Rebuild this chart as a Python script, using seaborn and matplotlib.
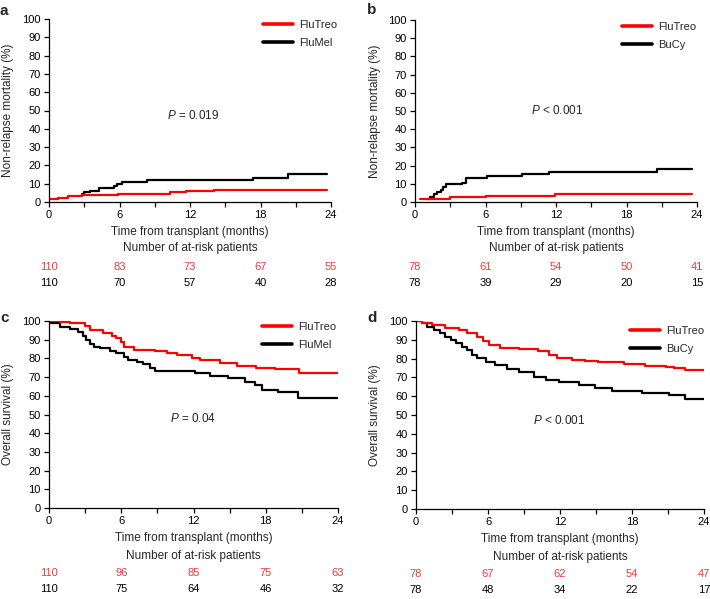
import numpy as np
import pandas as pd
import matplotlib
matplotlib.use("Agg")
import matplotlib.pyplot as plt
import matplotlib.transforms as mtransforms
from matplotlib.lines import Line2D
import seaborn as sns

sns.set_style("ticks")
plt.rcParams['font.family'] = ['Liberation Sans', 'DejaVu Sans']
plt.rcParams['mathtext.fontset'] = 'custom'
plt.rcParams['mathtext.rm'] = 'Liberation Sans'
plt.rcParams['mathtext.it'] = 'Liberation Sans:italic'

RED = '#ff0000'
RED_TXT = '#f03a3a'
BLACK = '#000000'

# ---------- Panel a: NRM FluTreo vs FluMel ----------
a_treo_t = [0.1, 0.8, 1.6, 2.8, 5.9, 10.3, 11.7, 14.0, 23.7]
a_treo_v = [1.5, 2.4, 3.2, 3.8, 4.5, 5.4, 6.1, 6.6, 6.6]
a_mel_t = [2.8, 3.0, 3.5, 4.25, 5.5, 5.75, 6.25, 8.3, 17.4, 20.3, 23.7]
a_mel_v = [4.6, 5.2, 6.0, 7.6, 8.5, 9.7, 11.1, 12.0, 13.3, 15.5, 15.5]
a_risk_treo = [110, 83, 73, 67, 55]
a_risk_mel = [110, 70, 57, 40, 28]

# ---------- Panel b: NRM FluTreo vs BuCy ----------
b_treo_t = [0.4, 3.0, 6.0, 11.9, 23.6]
b_treo_v = [1.4, 2.6, 3.5, 4.5, 4.5]
b_bucy_t = [1.1, 1.3, 1.6, 1.9, 2.2, 2.4, 2.6, 4.0, 4.3, 6.1, 9.1, 11.4, 20.6, 23.6]
b_bucy_v = [1.5, 3.0, 4.5, 5.5, 6.5, 8.0, 10.0, 10.5, 13.3, 14.3, 15.4, 16.7, 18.4, 18.4]
b_risk_treo = [78, 61, 54, 50, 41]
b_risk_bucy = [78, 39, 29, 20, 15]

# ---------- Panel c: OS FluTreo vs FluMel ----------
c_treo_t = [0, 0.9, 1.75, 3.0, 3.4, 4.5, 5.2, 5.6, 6.0, 6.2, 7.1, 8.8, 9.8, 10.6,
            11.85, 12.5, 14.2, 15.6, 17.2, 18.8, 20.8, 24.0]
c_treo_v = [100, 99.3, 98.7, 97.3, 95.2, 93.4, 92.1, 90.7, 88.9, 86.2, 84.6, 83.8, 82.9,
            81.7, 80.3, 79.0, 77.4, 76.1, 75.1, 74.1, 72.4, 72.4]
c_mel_t = [0, 0.2, 0.9, 1.75, 2.4, 2.85, 3.1, 3.4, 3.7, 4.2, 5.1, 5.6, 6.2, 6.6, 7.3,
           7.8, 8.4, 8.8, 12.1, 13.4, 14.9, 16.3, 17.1, 17.7, 19.0, 20.7, 24.0]
c_mel_v = [100, 98.8, 97.0, 95.7, 94.3, 92.1, 89.8, 87.5, 86.2, 85.4, 84.0, 82.7, 80.9,
           79.1, 78.2, 76.8, 75.0, 73.0, 72.0, 70.7, 69.3, 67.5, 65.6, 63.3, 61.9, 59.0, 59.0]
c_risk_treo = [110, 96, 85, 75, 63]
c_risk_mel = [110, 75, 64, 46, 32]

# ---------- Panel d: OS FluTreo vs BuCy ----------
d_treo_t = [0, 0.5, 1.3, 2.4, 3.6, 4.25, 5.1, 5.6, 6.05, 7.0, 8.55, 10.2, 11.05, 11.75,
            13.0, 14.1, 15.2, 17.3, 19.1, 20.8, 21.5, 22.4, 24.0]
d_treo_v = [100, 99.2, 97.9, 96.4, 95.1, 93.4, 91.7, 89.4, 87.1, 85.9, 85.2, 83.8, 82.1,
            80.2, 79.4, 78.7, 78.1, 77.2, 76.3, 75.5, 74.9, 73.9, 73.9]
d_bucy_t = [0, 0.5, 0.9, 1.5, 2.0, 2.4, 2.9, 3.3, 3.85, 4.25, 4.7, 5.1, 5.8, 6.6, 7.6,
            8.55, 9.8, 10.8, 11.9, 13.6, 14.9, 16.3, 18.8, 21.1, 22.4, 24.0]
d_bucy_v = [100, 99.0, 97.0, 95.2, 93.4, 91.7, 89.9, 88.1, 86.3, 84.6, 81.9, 80.1, 78.3,
            76.6, 74.6, 72.8, 70.3, 68.4, 67.4, 65.8, 64.3, 62.6, 61.6, 60.5, 58.6, 58.6]
d_risk_treo = [78, 67, 62, 54, 47]
d_risk_bucy = [78, 48, 34, 22, 17]

risk_times = [0, 6, 12, 18, 24]

W, H = 710, 599
fig = plt.figure(figsize=(W / 100, H / 100), dpi=100)


def make_ax(left, top, right, bottom):
    return fig.add_axes([left / W, 1 - bottom / H, (right - left) / W, (bottom - top) / H])


def panel(ax, t1, v1, t2, v2, name2, ylabel, ptext, ptext_xy, legend_xy,
          risk1, risk2, ylab_x, rows_y):
    df = pd.concat([
        pd.DataFrame({'time': t1, 'value': v1, 'group': 'FluTreo'}),
        pd.DataFrame({'time': t2, 'value': v2, 'group': name2}),
    ], ignore_index=True)
    sns.lineplot(data=df, x='time', y='value', hue='group',
                 hue_order=[name2, 'FluTreo'],
                 palette={'FluTreo': RED, name2: BLACK},
                 drawstyle='steps-post', estimator=None, sort=False,
                 linewidth=1.6, legend=False, ax=ax)
    ax.set_xlim(0, 24)
    ax.set_ylim(0, 100)
    ax.set_xticks([0, 6, 12, 18, 24])
    ax.set_xticks([3, 9, 15, 21], minor=True)
    ax.set_yticks(np.arange(0, 101, 10))
    ax.tick_params(axis='both', which='both', direction='out', length=3.5,
                   width=0.9, labelsize=8, pad=2.5, colors='black')
    for s in ['top', 'right']:
        ax.spines[s].set_visible(False)
    for s in ['left', 'bottom']:
        ax.spines[s].set_linewidth(0.9)
        ax.spines[s].set_color('black')
    ax.set_xlabel('')
    ax.set_ylabel(ylabel, fontsize=8.5)
    ax.yaxis.set_label_coords(ylab_x, 0.5)
    ax.text(ptext_xy[0], ptext_xy[1], ptext, transform=ax.transAxes,
            ha='center', va='center', fontsize=8.5)
    handles = [Line2D([0], [0], color=RED, lw=2.6),
               Line2D([0], [0], color=BLACK, lw=2.6)]
    ax.legend(handles, ['FluTreo', name2], loc='upper left',
              bbox_to_anchor=legend_xy, frameon=False, fontsize=8,
              handlelength=2.7, handletextpad=0.55, labelspacing=0.75,
              borderpad=0, borderaxespad=0)
    trans = mtransforms.blended_transform_factory(ax.transData, ax.transAxes)
    ax.text(12, rows_y[0], 'Time from transplant (months)', transform=trans,
            ha='center', va='center', fontsize=8.5)
    ax.text(12, rows_y[1], 'Number of at-risk patients', transform=trans,
            ha='center', va='center', fontsize=8.5)
    for tt, n1, n2 in zip(risk_times, risk1, risk2):
        ax.text(tt, rows_y[2], str(n1), transform=trans, ha='center',
                va='center', fontsize=8, color=RED_TXT)
        ax.text(tt, rows_y[3], str(n2), transform=trans, ha='center',
                va='center', fontsize=8, color=BLACK)


ax_a = make_ax(49, 19, 331, 202)
ax_b = make_ax(415, 20, 697, 202)
ax_c = make_ax(49, 321, 338, 508)
ax_d = make_ax(416, 321, 704, 509)

rows_top = [-0.164, -0.251, -0.355, -0.443]
rows_bot = [-0.16, -0.257, -0.348, -0.433]

panel(ax_a, a_treo_t, a_treo_v, a_mel_t, a_mel_v, 'FluMel',
      'Non-relapse mortality (%)', r'$P$ = 0.019', (0.51, 0.475),
      (0.759, 0.995), a_risk_treo, a_risk_mel, -0.125, rows_top)
panel(ax_b, b_treo_t, b_treo_v, b_bucy_t, b_bucy_v, 'BuCy',
      'Non-relapse mortality (%)', r'$P$ < 0.001', (0.503, 0.505),
      (0.734, 0.99), b_risk_treo, b_risk_bucy, -0.122, rows_top)
panel(ax_c, c_treo_t, c_treo_v, c_mel_t, c_mel_v, 'FluMel',
      'Overall survival (%)', r'$P$ = 0.04', (0.498, 0.476),
      (0.737, 0.995), c_risk_treo, c_risk_mel, -0.122, rows_bot)
panel(ax_d, d_treo_t, d_treo_v, d_bucy_t, d_bucy_v, 'BuCy',
      'Overall survival (%)', r'$P$ < 0.001', (0.497, 0.473),
      (0.743, 0.975), d_risk_treo, d_risk_bucy, -0.123, rows_bot)

for lab, x, y in [('a', 0, 4), ('b', 367, 3), ('c', 0, 311), ('d', 367, 311)]:
    fig.text(x / W, 1 - y / H, lab, ha='left', va='top', fontsize=11,
             fontweight='bold')

fig.savefig('out.png', dpi=100)
